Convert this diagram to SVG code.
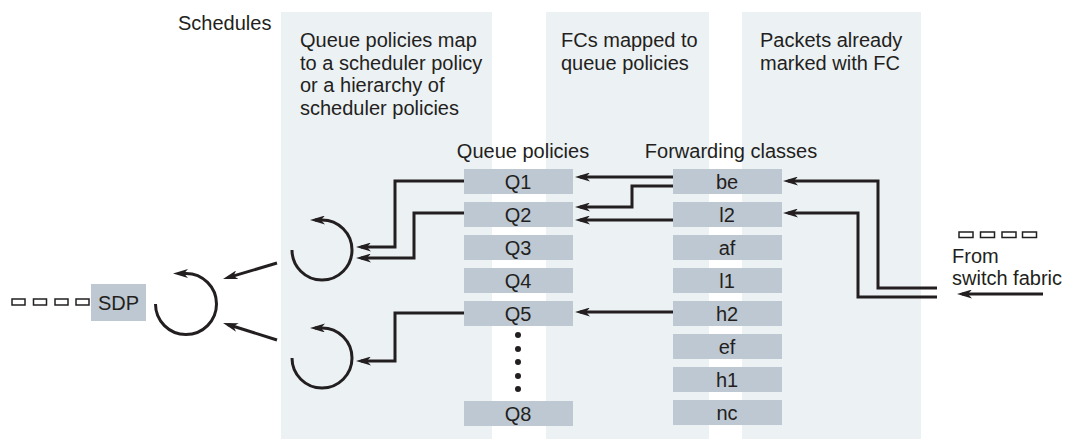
<svg xmlns="http://www.w3.org/2000/svg" width="1073" height="441" viewBox="0 0 1073 441">
<style>
.panel{fill:#ecf1f4}
.box{fill:#bec8d2}
.t{font-family:"Liberation Sans",Arial,sans-serif;font-size:20px;fill:#231f20}
.c{text-anchor:middle}
.ln{fill:none;stroke:#231f20;stroke-width:3;marker-end:url(#ah)}
.pk{fill:#fff;stroke:#231f20;stroke-width:1.5}
</style>
<defs>
<marker id="ah" viewBox="0 0 15 9" refX="10" refY="4.5" markerWidth="15" markerHeight="9" markerUnits="userSpaceOnUse" orient="auto">
<path d="M0,0 L15,4.5 L0,9 L4,4.5 Z" fill="#231f20"/>
</marker>
</defs>
<rect width="1073" height="441" fill="#fff"/>
<g id="panels">
<rect class="panel" x="281" y="12" width="211" height="427"/>
<rect class="panel" x="546" y="12" width="163" height="427"/>
<rect class="panel" x="742" y="12" width="179" height="427"/>
</g>
<g id="titles">
<text class="t" x="178" y="30">Schedules</text>
<text class="t" x="300" y="47">Queue policies map</text>
<text class="t" x="300" y="69.5">to a scheduler policy</text>
<text class="t" x="300" y="92">or a hierarchy of</text>
<text class="t" x="300" y="114.5">scheduler policies</text>
<text class="t" x="561" y="47">FCs mapped to</text>
<text class="t" x="561" y="69.5">queue policies</text>
<text class="t" x="760" y="47">Packets already</text>
<text class="t" x="760" y="69.5">marked with FC</text>
<text class="t c" x="523" y="158">Queue policies</text>
<text class="t c" x="731" y="158">Forwarding classes</text>
</g>
<g id="queues">
<g id="q1"><rect class="box" x="464" y="169" width="109" height="25"/><text class="t c" x="518" y="188.5">Q1</text></g>
<g id="q2"><rect class="box" x="464" y="202" width="109" height="25"/><text class="t c" x="518" y="221.5">Q2</text></g>
<g id="q3"><rect class="box" x="464" y="235" width="109" height="25"/><text class="t c" x="518" y="254.5">Q3</text></g>
<g id="q4"><rect class="box" x="464" y="268" width="109" height="25"/><text class="t c" x="518" y="287.5">Q4</text></g>
<g id="q5"><rect class="box" x="464" y="301" width="109" height="25"/><text class="t c" x="518" y="320.5">Q5</text></g>
<g id="dots" fill="#231f20"><circle cx="518" cy="335" r="3"/><circle cx="518" cy="349" r="3"/><circle cx="518" cy="362" r="3"/><circle cx="518" cy="376" r="3"/><circle cx="518" cy="389" r="3"/></g>
<g id="q8"><rect class="box" x="464" y="401" width="109" height="25"/><text class="t c" x="518" y="420.5">Q8</text></g>
</g>
<g id="fcs">
<g id="fc-be"><rect class="box" x="673" y="169" width="109" height="25"/><text class="t c" x="727" y="188.5">be</text></g>
<g id="fc-l2"><rect class="box" x="673" y="202" width="109" height="25"/><text class="t c" x="727" y="221.5">l2</text></g>
<g id="fc-af"><rect class="box" x="673" y="235" width="109" height="25"/><text class="t c" x="727" y="254.5">af</text></g>
<g id="fc-l1"><rect class="box" x="673" y="268" width="109" height="25"/><text class="t c" x="727" y="287.5">l1</text></g>
<g id="fc-h2"><rect class="box" x="673" y="301" width="109" height="25"/><text class="t c" x="727" y="320.5">h2</text></g>
<g id="fc-ef"><rect class="box" x="673" y="334" width="109" height="25"/><text class="t c" x="727" y="353.5">ef</text></g>
<g id="fc-h1"><rect class="box" x="673" y="367" width="109" height="25"/><text class="t c" x="727" y="386.5">h1</text></g>
<g id="fc-nc"><rect class="box" x="673" y="400" width="109" height="25"/><text class="t c" x="727" y="419.5">nc</text></g>
</g>
<g id="sdp">
<rect class="box" x="91" y="284" width="55" height="37"/>
<text class="t c" x="118.5" y="310">SDP</text>
<rect class="pk" x="12" y="299" width="13" height="6"/>
<rect class="pk" x="33.5" y="299" width="13" height="6"/>
<rect class="pk" x="55" y="299" width="13" height="6"/>
<rect class="pk" x="76" y="299" width="13" height="6"/>
</g>
<g id="fabric">
<rect class="pk" x="959" y="232" width="14" height="5.5"/>
<rect class="pk" x="980.5" y="232" width="14" height="5.5"/>
<rect class="pk" x="1002" y="232" width="14" height="5.5"/>
<rect class="pk" x="1022.5" y="232" width="14" height="5.5"/>
<text class="t" x="952" y="263">From</text>
<text class="t" x="952" y="285">switch fabric</text>
</g>
<g id="schedulers">
<path id="sched1" class="ln" d="M292 250 A30 30 0 1 0 322 220 L315 220"/>
<path id="sched2" class="ln" d="M292 358 A30 30 0 1 0 322 328 L315 328"/>
<path id="sched3" class="ln" d="M155.5 304 A30.5 30.5 0 1 0 186 273.5 L178 273.5"/>
</g>
<g id="connectors">
<path class="ln" d="M673 177 H580"/>
<path class="ln" d="M673 186 H632 V207 H580"/>
<path class="ln" d="M673 220 H580"/>
<path class="ln" d="M673 312 H580"/>
<path class="ln" d="M464 181 H395 V247 H361"/>
<path class="ln" d="M464 213 H414 V258 H361"/>
<path class="ln" d="M464 313 H395 V361 H361"/>
<path class="ln" d="M277 263 L227.8 277.6"/>
<path class="ln" d="M277 340 L227.8 324.5"/>
<path class="ln" d="M937 288 H878 V181 H788"/>
<path class="ln" d="M937 297 H858 V213 H788"/>
<path class="ln" d="M1043 294 H962"/>
</g>
</svg>
